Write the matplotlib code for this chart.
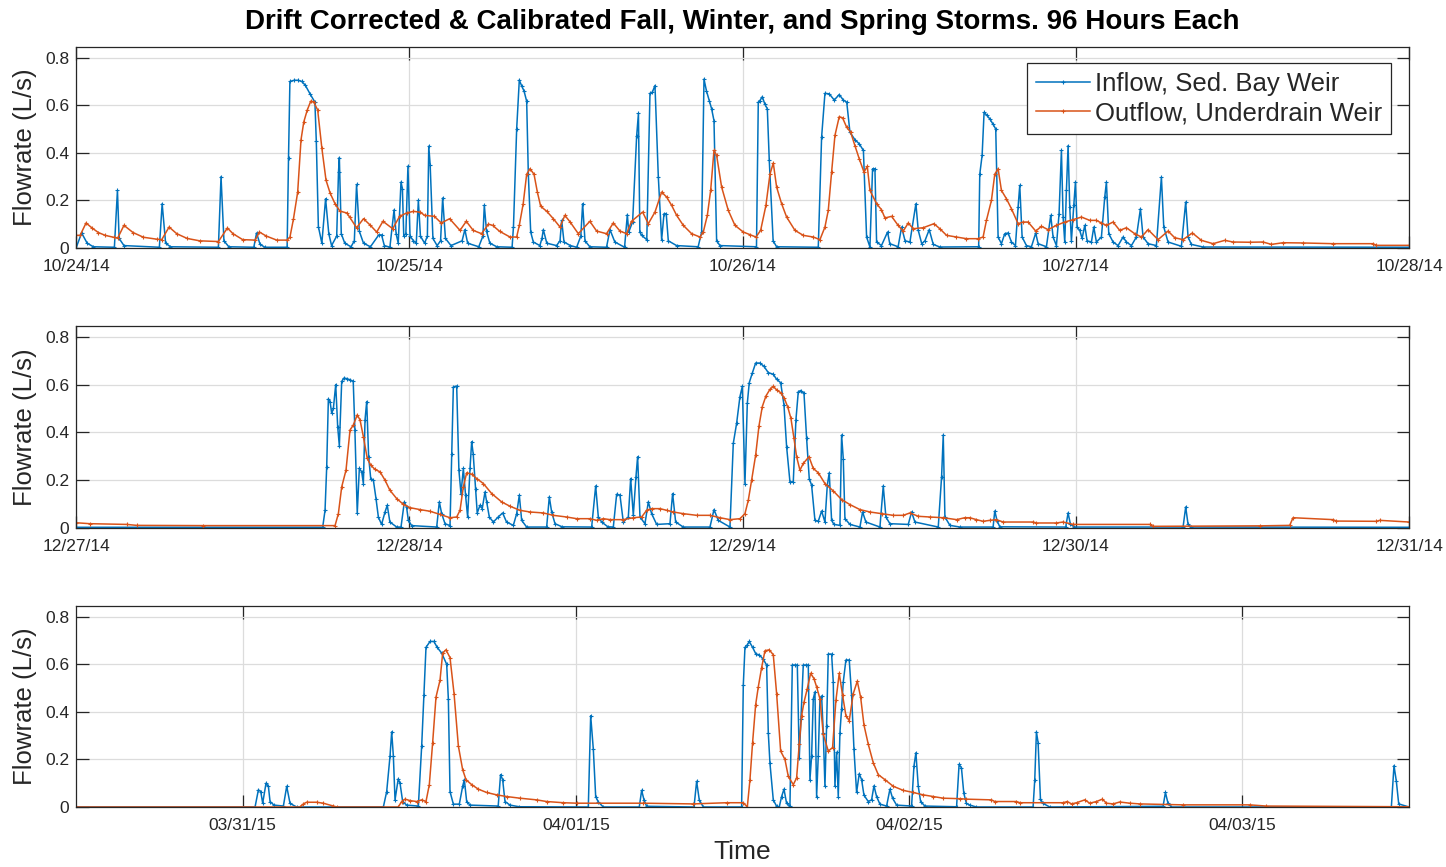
import numpy as np
import matplotlib
matplotlib.use('Agg')
import matplotlib.pyplot as plt

# 세 폭우 기간 (각 96시간) - x는 구간 시작부터의 경과 시간(h), y는 유량(L/s)
title_text = "Drift Corrected & Calibrated Fall, Winter, and Spring Storms. 96 Hours Each"
series_names = ['Inflow, Sed. Bay Weir', 'Outflow, Underdrain Weir']

fall_ticks = [0, 24, 48, 72, 96]
fall_ticklabels = ['10/24/14', '10/25/14', '10/26/14', '10/27/14', '10/28/14']
winter_ticks = [0, 24, 48, 72, 96]
winter_ticklabels = ['12/27/14', '12/28/14', '12/29/14', '12/30/14', '12/31/14']
# 봄 구간은 03/30/15 12:00 에서 시작
spring_ticks = [12, 36, 60, 84]
spring_ticklabels = ['03/31/15', '04/01/15', '04/02/15', '04/03/15']

fall_inflow = [
    (0, 0), (0.4, 0.063), (0.8, 0.02), (1.25, 0.005), (2.76, 0.003), (2.98, 0.242), (3.1, 0.04),
    (3.45, 0.01), (6.0, 0.003), (6.2, 0.186), (6.45, 0.02), (6.8, 0.005), (10.25, 0.003), (10.44, 0.3),
    (10.65, 0.03), (11.0, 0.005), (12.8, 0.003), (13.0, 0.063), (13.25, 0.015), (13.6, 0.003),
    (15.2, 0.003), (15.3, 0.38), (15.4, 0.70), (15.7, 0.705), (16.0, 0.705), (16.25, 0.70),
    (16.5, 0.685), (16.85, 0.648), (17.2, 0.613), (17.3, 0.45), (17.45, 0.09), (17.7, 0.02),
    (17.97, 0.207), (18.2, 0.06), (18.4, 0.01), (18.77, 0.05), (18.9, 0.32), (18.96, 0.38),
    (19.1, 0.06), (19.35, 0.02), (19.8, 0.005), (20.04, 0.03), (20.2, 0.267), (20.4, 0.07),
    (20.7, 0.02), (21.2, 0.005), (21.8, 0.055), (22.0, 0.055), (22.2, 0.01), (22.6, 0.003),
    (22.9, 0.16), (23.05, 0.06), (23.2, 0.02), (23.4, 0.277), (23.5, 0.25), (23.6, 0.05),
    (23.75, 0.06), (23.9, 0.344), (24.05, 0.05), (24.3, 0.03), (24.5, 0.02), (24.65, 0.2),
    (24.8, 0.05), (25.1, 0.02), (25.3, 0.05), (25.4, 0.428), (25.5, 0.35), (25.7, 0.04),
    (26.0, 0.01), (26.25, 0.03), (26.4, 0.21), (26.6, 0.04), (27.0, 0.01), (27.8, 0.03),
    (28.0, 0.077), (28.2, 0.02), (29.0, 0.005), (29.3, 0.05), (29.4, 0.18), (29.56, 0.07),
    (29.8, 0.02), (30.3, 0.005), (31.4, 0.003), (31.5, 0.09), (31.73, 0.50), (31.92, 0.706),
    (32.1, 0.68), (32.26, 0.66), (32.45, 0.617), (32.57, 0.31), (32.74, 0.067), (32.93, 0.025),
    (33.4, 0.01), (33.55, 0.04), (33.65, 0.077), (33.9, 0.02), (34.6, 0.01), (34.85, 0.03),
    (34.97, 0.116), (35.14, 0.025), (35.6, 0.01), (36.05, 0.003), (36.35, 0.05), (36.48, 0.186),
    (36.65, 0.03), (37.0, 0.005), (38.2, 0.003), (38.45, 0.077), (38.8, 0.025), (39.5, 0.003),
    (39.7, 0.14), (39.8, 0.067), (40.08, 0.11), (40.37, 0.47), (40.5, 0.566), (40.6, 0.067),
    (40.73, 0.053), (41.1, 0.035), (41.33, 0.65), (41.5, 0.655), (41.69, 0.683), (41.93, 0.3),
    (42.17, 0.035), (42.34, 0.144), (42.5, 0.144), (42.65, 0.03), (43.25, 0.01), (44.8, 0.005),
    (45.05, 0.067), (45.22, 0.71), (45.4, 0.66), (45.6, 0.62), (45.77, 0.585), (45.94, 0.535),
    (46.13, 0.03), (46.37, 0.01), (49.0, 0.005), (49.13, 0.613), (49.25, 0.62), (49.42, 0.636),
    (49.6, 0.605), (49.78, 0.585), (49.92, 0.37), (50.2, 0.03), (50.45, 0.005), (53.45, 0.003),
    (53.69, 0.466), (53.93, 0.65), (54.24, 0.648), (54.6, 0.622), (54.96, 0.645), (55.25, 0.622),
    (55.5, 0.613), (55.73, 0.487), (56.09, 0.455), (56.4, 0.438), (56.7, 0.41), (56.93, 0.046),
    (57.17, 0.004), (57.36, 0.333), (57.53, 0.333), (57.65, 0.025), (58.0, 0.01), (58.44, 0.067),
    (58.6, 0.018), (59.2, 0.005), (59.45, 0.088), (59.7, 0.03), (60.05, 0.025), (60.48, 0.186),
    (60.65, 0.074), (60.9, 0.018), (61.13, 0.03), (61.44, 0.077), (61.73, 0.015), (62.2, 0.004),
    (65.0, 0.005), (65.08, 0.31), (65.25, 0.39), (65.39, 0.57), (65.6, 0.557), (65.8, 0.543),
    (66.04, 0.52), (66.23, 0.5), (66.4, 0.046), (66.64, 0.018), (66.88, 0.06), (67.12, 0.063),
    (67.36, 0.025), (67.65, 0.01), (67.84, 0.172), (67.96, 0.263), (68.13, 0.046), (68.44, 0.01),
    (68.8, 0.005), (69.11, 0.063), (69.28, 0.018), (69.88, 0.005), (70.19, 0.137), (70.36, 0.046),
    (70.6, 0.01), (70.79, 0.144), (70.96, 0.41), (71.08, 0.13), (71.2, 0.025), (71.32, 0.242),
    (71.44, 0.43), (71.56, 0.172), (71.68, 0.03), (71.85, 0.179), (71.97, 0.277), (72.09, 0.088),
    (72.28, 0.074), (72.45, 0.04), (72.64, 0.095), (72.81, 0.03), (73.12, 0.025), (73.29, 0.088),
    (73.48, 0.025), (73.84, 0.046), (74.08, 0.214), (74.2, 0.277), (74.37, 0.06), (74.68, 0.025),
    (75.04, 0.01), (75.4, 0.046), (75.64, 0.025), (76.0, 0.01), (76.36, 0.046), (76.65, 0.165),
    (76.84, 0.046), (77.2, 0.018), (77.8, 0.01), (78.16, 0.298), (78.33, 0.088), (78.64, 0.025),
    (79.6, 0.007), (79.91, 0.193), (80.08, 0.046), (80.32, 0.015), (81.16, 0.004), (96, 0.003),
]
fall_outflow = [
    (0, 0.053), (0.29, 0.053), (0.72, 0.105), (1.13, 0.085), (1.6, 0.065), (2.1, 0.053), (2.7, 0.045),
    (3.0, 0.042), (3.45, 0.095), (4.1, 0.065), (4.85, 0.045), (5.8, 0.037), (6.17, 0.035), (6.7, 0.088),
    (7.25, 0.06), (8.0, 0.04), (8.9, 0.03), (10.25, 0.027), (10.9, 0.084), (11.3, 0.06), (12.0, 0.035),
    (12.9, 0.033), (13.2, 0.067), (13.7, 0.05), (14.45, 0.033), (15.2, 0.033), (15.4, 0.045),
    (15.65, 0.12), (15.96, 0.235), (16.2, 0.455), (16.4, 0.53), (16.65, 0.58), (16.9, 0.617),
    (17.1, 0.615), (17.4, 0.58), (17.7, 0.42), (18.0, 0.285), (18.3, 0.23), (18.65, 0.186),
    (19.0, 0.155), (19.5, 0.147), (19.7, 0.13), (20.2, 0.085), (20.7, 0.123), (21.2, 0.095),
    (21.65, 0.067), (22.1, 0.112), (22.8, 0.081), (23.3, 0.133), (23.8, 0.147), (24.3, 0.154),
    (24.8, 0.15), (25.1, 0.137), (25.8, 0.133), (26.3, 0.105), (26.9, 0.123), (27.65, 0.074),
    (28.1, 0.112), (28.6, 0.074), (29.2, 0.06), (29.7, 0.1), (30.0, 0.095), (30.5, 0.07),
    (31.25, 0.046), (31.73, 0.046), (31.92, 0.095), (32.2, 0.186), (32.45, 0.31), (32.69, 0.333),
    (32.98, 0.31), (33.22, 0.235), (33.46, 0.175), (33.9, 0.154), (34.37, 0.123), (34.85, 0.088),
    (35.2, 0.137), (35.57, 0.11), (36.17, 0.06), (37.0, 0.112), (37.49, 0.071), (38.2, 0.06),
    (38.69, 0.105), (39.17, 0.071), (39.65, 0.06), (40.0, 0.112), (40.8, 0.151), (41.21, 0.102),
    (41.69, 0.151), (42.17, 0.235), (42.53, 0.214), (42.89, 0.179), (43.25, 0.137), (43.73, 0.095),
    (44.33, 0.06), (44.93, 0.046), (45.17, 0.067), (45.46, 0.137), (45.7, 0.242), (45.94, 0.41),
    (46.13, 0.389), (46.49, 0.256), (46.97, 0.158), (47.45, 0.095), (48.05, 0.067), (48.53, 0.056),
    (48.96, 0.046), (49.3, 0.074), (49.68, 0.179), (49.97, 0.31), (50.21, 0.357), (50.45, 0.256),
    (50.81, 0.186), (51.17, 0.13), (51.77, 0.074), (52.37, 0.053), (53.09, 0.046), (53.57, 0.035),
    (53.93, 0.088), (54.17, 0.158), (54.41, 0.319), (54.65, 0.473), (54.96, 0.552), (55.2, 0.547),
    (55.49, 0.508), (55.78, 0.487), (56.09, 0.43), (56.4, 0.375), (56.74, 0.319), (56.98, 0.343),
    (57.17, 0.242), (57.65, 0.186), (58.0, 0.161), (58.25, 0.126), (58.73, 0.133), (59.2, 0.095),
    (59.57, 0.071), (59.93, 0.105), (60.29, 0.081), (61.0, 0.085), (61.78, 0.102), (62.2, 0.081),
    (62.69, 0.053), (63.4, 0.046), (64.12, 0.039), (64.96, 0.039), (65.32, 0.046), (65.56, 0.116),
    (65.92, 0.2), (66.16, 0.31), (66.4, 0.333), (66.64, 0.242), (67.0, 0.207), (67.36, 0.165),
    (67.84, 0.102), (68.2, 0.109), (68.56, 0.109), (69.11, 0.071), (69.52, 0.091), (70.0, 0.077),
    (70.6, 0.095), (71.2, 0.109), (71.8, 0.119), (72.4, 0.13), (73.0, 0.116), (73.48, 0.116),
    (73.84, 0.105), (74.2, 0.095), (74.68, 0.109), (75.16, 0.074), (75.64, 0.085), (76.24, 0.06),
    (76.72, 0.046), (77.2, 0.077), (77.92, 0.035), (78.64, 0.071), (79.12, 0.043), (79.72, 0.035),
    (80.39, 0.063), (81.04, 0.032), (81.88, 0.018), (82.72, 0.032), (83.32, 0.025), (84.52, 0.024),
    (85.48, 0.025), (86.08, 0.015), (86.92, 0.022), (88.36, 0.021), (90.52, 0.018), (93.4, 0.018),
    (93.64, 0.011), (96, 0.011),
]

winter_inflow = [
    (0, 0.003), (17.76, 0.003), (17.93, 0.074), (18.05, 0.256), (18.17, 0.54), (18.29, 0.529),
    (18.41, 0.48), (18.53, 0.5), (18.7, 0.6), (18.84, 0.424), (18.96, 0.344), (19.13, 0.613),
    (19.29, 0.627), (19.48, 0.625), (19.73, 0.62), (19.96, 0.613), (20.08, 0.41), (20.25, 0.063),
    (20.4, 0.249), (20.57, 0.235), (20.69, 0.186), (20.81, 0.452), (20.93, 0.529), (21.07, 0.298),
    (21.22, 0.207), (21.41, 0.2), (21.6, 0.123), (21.77, 0.046), (22.0, 0.015), (22.25, 0.067),
    (22.41, 0.095), (22.6, 0.025), (23.09, 0.004), (23.4, 0.004), (23.64, 0.109), (23.8, 0.088),
    (23.93, 0.032), (24.17, 0.01), (25.97, 0.004), (26.16, 0.109), (26.33, 0.06), (26.57, 0.018),
    (26.93, 0.01), (27.05, 0.31), (27.17, 0.59), (27.41, 0.594), (27.57, 0.242), (27.72, 0.144),
    (27.89, 0.249), (28.05, 0.137), (28.2, 0.046), (28.37, 0.249), (28.49, 0.361), (28.6, 0.31),
    (28.77, 0.165), (28.89, 0.063), (29.09, 0.095), (29.25, 0.081), (29.45, 0.151), (29.57, 0.109),
    (29.76, 0.046), (30.05, 0.025), (30.4, 0.046), (30.72, 0.063), (31.0, 0.025), (31.49, 0.011),
    (31.73, 0.06), (31.92, 0.137), (32.09, 0.032), (32.45, 0.004), (33.89, 0.004), (34.08, 0.13),
    (34.25, 0.067), (34.49, 0.018), (35.0, 0.005), (37.13, 0.004), (37.42, 0.176), (37.61, 0.046),
    (37.85, 0.025), (38.3, 0.005), (38.69, 0.004), (38.93, 0.141), (39.17, 0.137), (39.41, 0.025),
    (39.77, 0.046), (39.94, 0.207), (40.13, 0.053), (40.32, 0.214), (40.44, 0.298), (40.61, 0.046),
    (40.97, 0.018), (41.21, 0.109), (41.45, 0.06), (41.81, 0.015), (42.77, 0.018), (42.96, 0.144),
    (43.18, 0.025), (43.73, 0.004), (45.65, 0.004), (45.94, 0.077), (46.25, 0.032), (47.09, 0.004),
    (47.33, 0.354), (47.57, 0.438), (47.81, 0.55), (47.98, 0.592), (48.17, 0.186), (48.34, 0.522),
    (48.48, 0.608), (48.7, 0.648), (48.94, 0.69), (49.25, 0.69), (49.54, 0.676), (49.85, 0.65),
    (50.21, 0.643), (50.45, 0.622), (50.74, 0.608), (50.98, 0.515), (51.17, 0.34), (51.41, 0.193),
    (51.65, 0.193), (51.84, 0.452), (52.01, 0.57), (52.18, 0.575), (52.42, 0.564), (52.61, 0.375),
    (52.8, 0.207), (52.97, 0.179), (53.21, 0.032), (53.45, 0.028), (53.69, 0.071), (53.93, 0.025),
    (54.1, 0.179), (54.24, 0.231), (54.41, 0.032), (54.58, 0.015), (55.01, 0.011), (55.13, 0.389),
    (55.25, 0.29), (55.37, 0.039), (55.73, 0.015), (56.45, 0.004), (56.64, 0.067), (56.88, 0.025),
    (57.89, 0.004), (58.13, 0.176), (58.32, 0.046), (58.61, 0.018), (59.93, 0.015), (60.17, 0.067),
    (60.41, 0.025), (62.09, 0.004), (62.33, 0.214), (62.45, 0.389), (62.57, 0.046), (62.93, 0.011),
    (63.65, 0.004), (66.04, 0.004), (66.16, 0.071), (66.33, 0.03), (66.52, 0.005), (71.27, 0.004),
    (71.44, 0.063), (71.61, 0.015), (71.9, 0.004), (79.72, 0.004), (79.91, 0.088), (80.08, 0.015),
    (80.3, 0.004), (96, 0.003),
]
winter_outflow = [
    (0, 0.022), (1.0, 0.018), (3.65, 0.015), (4.37, 0.011), (9.17, 0.01), (18.65, 0.01), (18.89, 0.06),
    (19.13, 0.172), (19.44, 0.242), (19.73, 0.41), (19.96, 0.43), (20.25, 0.473), (20.45, 0.452),
    (20.69, 0.382), (20.97, 0.291), (21.22, 0.263), (21.53, 0.245), (21.89, 0.235), (22.25, 0.2),
    (22.6, 0.158), (23.09, 0.123), (23.57, 0.099), (24.05, 0.085), (24.77, 0.077), (25.49, 0.07),
    (26.2, 0.057), (26.93, 0.043), (27.41, 0.046), (27.65, 0.074), (27.89, 0.172), (28.13, 0.231),
    (28.49, 0.225), (28.85, 0.207), (29.33, 0.186), (29.93, 0.144), (30.65, 0.109), (31.25, 0.091),
    (31.97, 0.074), (32.69, 0.067), (33.65, 0.063), (34.37, 0.053), (35.33, 0.046), (36.05, 0.039),
    (37.01, 0.039), (37.49, 0.032), (37.97, 0.039), (38.45, 0.035), (39.41, 0.035), (40.13, 0.043),
    (40.73, 0.046), (41.09, 0.074), (41.45, 0.081), (42.05, 0.081), (42.53, 0.074), (43.01, 0.067),
    (43.73, 0.06), (44.69, 0.053), (45.65, 0.053), (46.37, 0.043), (47.09, 0.035), (47.81, 0.039),
    (48.17, 0.06), (48.41, 0.116), (48.65, 0.2), (48.94, 0.305), (49.18, 0.427), (49.42, 0.508),
    (49.68, 0.552), (49.97, 0.58), (50.21, 0.592), (50.45, 0.578), (50.74, 0.566), (51.0, 0.543),
    (51.24, 0.508), (51.48, 0.459), (51.7, 0.375), (51.89, 0.298), (52.13, 0.242), (52.37, 0.27),
    (52.78, 0.298), (53.09, 0.249), (53.45, 0.231), (53.93, 0.186), (54.53, 0.155), (55.13, 0.119),
    (55.73, 0.098), (56.45, 0.077), (57.17, 0.067), (58.01, 0.06), (58.85, 0.053), (59.57, 0.053),
    (60.05, 0.063), (60.65, 0.049), (61.49, 0.046), (62.45, 0.043), (63.41, 0.035), (64.0, 0.043),
    (64.36, 0.043), (64.84, 0.035), (65.32, 0.028), (65.8, 0.032), (66.28, 0.035), (66.76, 0.025),
    (68.92, 0.025), (69.16, 0.021), (70.6, 0.021), (71.08, 0.025), (71.8, 0.015), (77.32, 0.015),
    (77.56, 0.007), (85.24, 0.009), (87.4, 0.011), (87.64, 0.043), (90.52, 0.035), (90.76, 0.029),
    (93.64, 0.028), (93.88, 0.032), (96, 0.025),
]

spring_inflow = [
    (0, 0), (12.89, 0), (13.13, 0.072), (13.3, 0.065), (13.44, 0.016), (13.68, 0.1), (13.85, 0.087),
    (13.97, 0.023), (14.25, 0.008), (14.93, 0.004), (15.17, 0.087), (15.41, 0.015), (15.89, 0),
    (22.13, 0), (22.37, 0.065), (22.61, 0.214), (22.73, 0.316), (22.85, 0.214), (22.97, 0.03),
    (23.2, 0.118), (23.33, 0.1), (23.52, 0.023), (23.81, 0.008), (24.65, 0.004), (24.89, 0.257),
    (25.05, 0.47), (25.2, 0.671), (25.49, 0.696), (25.77, 0.696), (26.01, 0.671), (26.33, 0.647),
    (26.69, 0.6), (26.81, 0.455), (26.93, 0.065), (27.17, 0.012), (27.6, 0.012), (27.84, 0.087),
    (27.96, 0.115), (28.13, 0.023), (28.37, 0.008), (30.4, 0.004), (30.57, 0.136), (30.72, 0.115),
    (30.89, 0.023), (31.25, 0.008), (31.92, 0.001), (36.89, 0), (37.06, 0.384), (37.25, 0.243),
    (37.42, 0.044), (37.61, 0.021), (37.97, 0), (40.56, 0), (40.73, 0.07), (40.9, 0.03), (41.09, 0.003),
    (44.5, 0), (44.69, 0.108), (44.88, 0.03), (45.17, 0), (47.93, 0), (48.05, 0.512), (48.17, 0.671),
    (48.34, 0.682), (48.48, 0.696), (48.72, 0.671), (48.96, 0.643), (49.2, 0.64), (49.49, 0.621),
    (49.73, 0.597), (49.85, 0.313), (49.97, 0.184), (50.21, 0.03), (50.45, 0.003), (50.64, 0),
    (50.81, 0.044), (50.98, 0.075), (51.17, 0.015), (51.41, 0.003), (51.58, 0.597), (51.77, 0.597),
    (51.94, 0.597), (52.08, 0.207), (52.2, 0.37), (52.37, 0.597), (52.54, 0.597), (52.73, 0.597),
    (52.85, 0.115), (52.97, 0.214), (53.09, 0.455), (53.21, 0.484), (53.33, 0.044), (53.45, 0.214),
    (53.57, 0.455), (53.69, 0.467), (53.81, 0.313), (53.93, 0.087), (54.05, 0.342), (54.17, 0.643),
    (54.41, 0.643), (54.53, 0.526), (54.65, 0.087), (54.77, 0.23), (54.89, 0.044), (55.01, 0.313),
    (55.13, 0.413), (55.25, 0.526), (55.44, 0.618), (55.68, 0.618), (55.85, 0.47), (56.02, 0.243),
    (56.21, 0.061), (56.4, 0.14), (56.57, 0.115), (56.74, 0.05), (57.05, 0.023), (57.29, 0.03),
    (57.46, 0.089), (57.65, 0.044), (57.89, 0.012), (58.37, 0.004), (58.61, 0.075), (58.8, 0.037),
    (59.09, 0.008), (60.17, 0.004), (60.34, 0.172), (60.48, 0.228), (60.65, 0.087), (60.82, 0.023),
    (61.13, 0.004), (63.41, 0.001), (63.59, 0.179), (63.76, 0.165), (63.93, 0.058), (64.12, 0.015),
    (64.36, 0.008), (64.84, 0), (68.92, 0), (69.04, 0.115), (69.16, 0.316), (69.28, 0.271),
    (69.45, 0.033), (69.64, 0.015), (70.12, 0), (78.28, 0.003), (78.45, 0.061), (78.64, 0.015),
    (78.88, 0), (94.72, 0), (94.91, 0.174), (95.08, 0.108), (95.25, 0.013), (96, 0),
]
spring_outflow = [
    (0, 0), (16.13, 0), (16.37, 0.013), (16.6, 0.02), (17.33, 0.02), (17.8, 0.016), (18.53, 0.004),
    (18.77, 0), (23.2, 0), (23.45, 0.023), (23.69, 0.033), (24.05, 0.027), (24.53, 0.023), (24.89, 0.03),
    (25.2, 0.023), (25.44, 0.094), (25.68, 0.271), (25.92, 0.462), (26.21, 0.533), (26.4, 0.647),
    (26.64, 0.661), (26.93, 0.628), (27.22, 0.477), (27.53, 0.257), (27.84, 0.157), (28.08, 0.115),
    (28.49, 0.094), (28.97, 0.075), (29.57, 0.061), (30.29, 0.051), (31.01, 0.044), (31.97, 0.037),
    (33.17, 0.03), (33.89, 0.023), (35.09, 0.018), (36.05, 0.016), (40.85, 0.016), (44.45, 0.013),
    (46.85, 0.018), (48.05, 0.018), (48.34, 0), (48.53, 0.115), (48.72, 0.271), (48.94, 0.43),
    (49.13, 0.505), (49.37, 0.586), (49.61, 0.657), (49.92, 0.661), (50.21, 0.64), (50.45, 0.477),
    (50.74, 0.235), (51.05, 0.2), (51.29, 0.129), (51.65, 0.094), (51.89, 0.122), (52.08, 0.264),
    (52.25, 0.384), (52.42, 0.44), (52.66, 0.498), (52.9, 0.562), (53.14, 0.54), (53.33, 0.505),
    (53.57, 0.455), (53.81, 0.306), (54.17, 0.235), (54.48, 0.25), (54.72, 0.448), (54.96, 0.562),
    (55.2, 0.47), (55.44, 0.384), (55.68, 0.363), (55.97, 0.477), (56.26, 0.529), (56.5, 0.462),
    (56.74, 0.345), (57.05, 0.264), (57.41, 0.186), (57.77, 0.136), (58.25, 0.115), (58.85, 0.087),
    (59.57, 0.07), (60.29, 0.061), (61.01, 0.051), (61.73, 0.044), (62.45, 0.037), (63.65, 0.035),
    (64.12, 0.033), (65.92, 0.03), (66.16, 0.023), (67.72, 0.023), (67.96, 0.018), (71.09, 0.018),
    (71.38, 0.023), (71.69, 0.013), (72.05, 0.018), (72.64, 0.03), (73.0, 0.016), (73.48, 0.023),
    (73.91, 0.033), (74.2, 0.016), (74.68, 0.013), (75.16, 0.021), (75.88, 0.016), (76.6, 0.013),
    (79.72, 0.009), (84.52, 0.009), (85.72, 0.004), (96, 0.001),
]

# MATLAB 기본 색상
inflow_color = '#0072BD'
outflow_color = '#D95319'
axis_color = '#262626'

plt.rcParams['font.family'] = ['Liberation Sans', 'DejaVu Sans']

fig = plt.figure(figsize=(14.46, 8.67), dpi=100)

panels = [
    (fall_inflow, fall_outflow, fall_ticks, fall_ticklabels, [0.0526, 0.7140, 0.9219, 0.2318]),
    (winter_inflow, winter_outflow, winter_ticks, winter_ticklabels, [0.0526, 0.3910, 0.9219, 0.2330]),
    (spring_inflow, spring_outflow, spring_ticks, spring_ticklabels, [0.0526, 0.0692, 0.9219, 0.2318]),
]

axes = []
for inflow, outflow, ticks, ticklabels, pos in panels:
    ax = fig.add_axes(pos)
    t_in, q_in = np.array(inflow).T
    t_out, q_out = np.array(outflow).T
    ax.plot(t_in, q_in, color=inflow_color, linewidth=1.1, marker='+', markersize=3.5,
            markeredgewidth=0.8, label=series_names[0])
    ax.plot(t_out, q_out, color=outflow_color, linewidth=1.1, marker='+', markersize=3.5,
            markeredgewidth=0.8, label=series_names[1])

    ax.set_xlim(0, 96)
    ax.set_ylim(0, 0.845)
    ax.set_xticks(ticks)
    ax.set_xticklabels(ticklabels)
    ax.set_yticks([0, 0.2, 0.4, 0.6, 0.8])
    ax.set_yticklabels(['0', '0.2', '0.4', '0.6', '0.8'])

    ax.grid(True, color='#dcdcdc', linewidth=0.9)
    ax.set_axisbelow(True)
    for spine in ax.spines.values():
        spine.set_color(axis_color)
        spine.set_linewidth(0.9)
    ax.tick_params(direction='in', top=True, right=True, length=9, width=0.9,
                   color=axis_color, labelcolor=axis_color, labelsize=12.5)
    ax.tick_params(axis='x', pad=8)
    ax.tick_params(axis='y', pad=5)

    ax.set_ylabel('Flowrate (L/s)', fontsize=18.5, color=axis_color)
    ax.yaxis.set_label_coords(-0.029, 0.5)
    axes.append(ax)

leg = axes[0].legend(loc='upper right', bbox_to_anchor=(0.9865, 0.92), borderaxespad=0,
                     fontsize=18.5, fancybox=False, edgecolor=axis_color, framealpha=1,
                     handlelength=2.1, handletextpad=0.2, labelspacing=0.2, borderpad=0.35)
leg.get_frame().set_linewidth(0.9)
for txt in leg.get_texts():
    txt.set_color(axis_color)

fig.text(0.5135, 1 - 22 / 867, title_text, ha='center', va='center',
         fontsize=20, fontweight='bold', color='black')
fig.text(0.5135, 1 - 852 / 867, 'Time', ha='center', va='center',
         fontsize=19, color=axis_color)

fig.savefig('out.png', dpi=100)
plt.close(fig)
